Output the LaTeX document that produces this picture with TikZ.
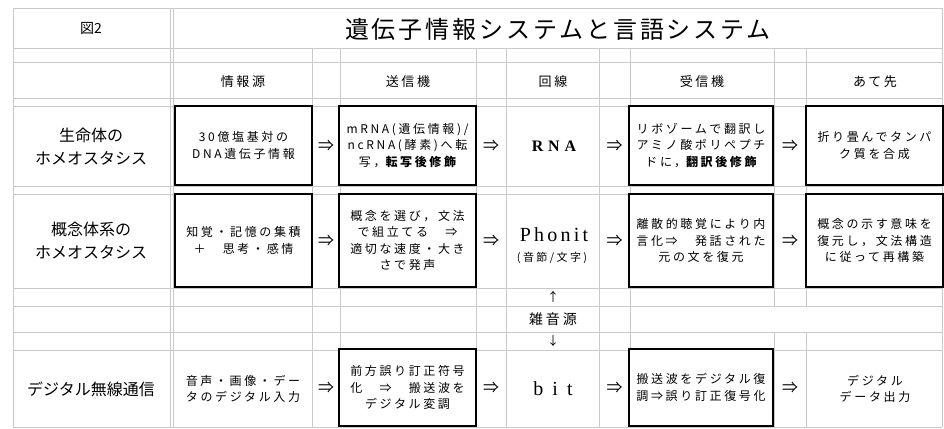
\documentclass[tikz,border=0pt]{standalone}
\usepackage{fontspec}
\setmainfont{Noto Sans CJK JP}
\newfontfamily\jp{Noto Sans CJK JP}
\newfontfamily\jpbox[LetterSpace=22]{Noto Sans CJK JP}
\newfontfamily\jphead[LetterSpace=20]{Noto Sans CJK JP}
\newfontfamily\jptitle[LetterSpace=12]{Noto Sans CJK JP}
\newfontfamily\latser{Liberation Serif}
\newfontfamily\latserw[LetterSpace=30]{Liberation Serif}
\newfontfamily\latserp[LetterSpace=16]{Liberation Serif}
\newfontfamily\latserww[LetterSpace=45]{Liberation Serif}
\begin{document}
\begin{tikzpicture}[x=1pt,y=-1pt,
  gridline/.style={draw=gray!42, line width=0.8pt},
  cellbox/.style={draw=black, line width=1.5pt, fill=white, inner sep=0pt, align=center,
     font=\jpbox\fontsize{12}{16.5}\selectfont},
  celltxt/.style={inner sep=0pt, align=center, font=\jpbox\fontsize{12}{16.5}\selectfont},
  rowlabel/.style={inner sep=0pt, align=center, font=\jp\fontsize{16}{23}\selectfont},
  headtxt/.style={inner sep=0pt, font=\jphead\fontsize{13}{16}\selectfont},
  arr/.style={inner sep=0pt, font=\jp\fontsize{16}{16}\selectfont},
  smallarr/.style={inner sep=0pt, font=\jp\fontsize{12}{12}\selectfont}
]
\useasboundingbox (0,0) rectangle (944,428);
\fill[white] (0,0) rectangle (944,428);
% horizontal grid lines
\foreach \yy in {8,48,62,98,106,186,194,288,306,332,350,427}
  \draw[gridline] (13,\yy) -- (942,\yy);
% full-height vertical lines
\foreach \xx in {13,170,173,942}
  \draw[gridline] (\xx,8) -- (\xx,427);
\foreach \xx in {312,340,476,506,599,630}
  \draw[gridline] (\xx,48) -- (\xx,427);
\foreach \xx in {774,806}{
  \draw[gridline] (\xx,48) -- (\xx,306);
  \draw[gridline] (\xx,332) -- (\xx,427);
}
% title row
\node[inner sep=0pt, font=\jp\fontsize{14}{14}\selectfont] (fig) at (91,28) {図2};
\node[inner sep=0pt, font=\jptitle\fontsize{24}{24}\selectfont] (title) at (558,29) {遺伝子情報システムと言語システム};
% header
\node[headtxt] (h1) at (243,82) {情報源};
\node[headtxt] (h2) at (408,82) {送信機};
\node[headtxt] (h3) at (553,82) {回線};
\node[headtxt] (h4) at (702,82) {受信機};
\node[headtxt] (h5) at (875,82) {あて先};
% row labels
\node[rowlabel] (r1) at (91,147) {生命体の\\ホメオスタシス};
\node[rowlabel] (r2) at (91,241) {概念体系の\\ホメオスタシス};
\node[rowlabel] (r3) at (91,389) {デジタル無線通信};
% row 1
\node[cellbox, minimum width=137pt, minimum height=79pt] (b11) at (243.5,145.5) {30億塩基対の\\DNA遺伝子情報};
\node[cellbox, minimum width=137pt, minimum height=79pt] (b12) at (407.5,145.5) {mRNA(遺伝情報)/\\ncRNA(酵素)へ転\\写，{\bfseries 転写後修飾}};
\node[inner sep=0pt, font=\latserw\bfseries\fontsize{16}{16}\selectfont] (b13) at (554,146) {RNA};
\node[cellbox, minimum width=144pt, minimum height=79pt] (b14) at (701,145.5) {リボゾームで翻訳し\\アミノ酸ポリペプチ\\ドに，{\bfseries 翻訳後修飾}};
\node[cellbox, minimum width=137pt, minimum height=79pt] (b15) at (874.5,145.5) {折り畳んでタンパ\\ク質を合成};
% row 2
\node[cellbox, minimum width=137pt, minimum height=93pt] (b21) at (243.5,240.5) {知覚・記憶の集積\\＋　思考・感情};
\node[cellbox, minimum width=137pt, minimum height=93pt] (b22) at (407.5,240.5) {概念を選び，文法\\で組立てる　⇒\\適切な速度・大き\\さで発声};
\node[inner sep=0pt, font=\latserp\fontsize{20}{20}\selectfont] (b23) at (554,235) {Phonit};
\node[celltxt, font=\jpbox\fontsize{11}{11}\selectfont] (b23s) at (552,258) {(音節/文字)};
\node[cellbox, minimum width=144pt, minimum height=93pt] (b24) at (701,240.5) {離散的聴覚により内\\言化⇒　発話された\\元の文を復元};
\node[cellbox, minimum width=137pt, minimum height=93pt] (b25) at (874.5,240.5) {概念の示す意味を\\復元し，文法構造\\に従って再構築};
% noise
\node[smallarr] (up) at (553,297) {↑};
\node[headtxt, font=\jphead\fontsize{14}{14}\selectfont] (noise) at (553,319) {雑音源};
\node[smallarr] (down) at (553,341) {↓};
% row 6
\node[celltxt] (b31) at (243,389) {音声・画像・デー\\タのデジタル入力};
\node[cellbox, minimum width=137pt, minimum height=77pt] (b32) at (407.5,387.5) {前方誤り訂正符号\\化　⇒　搬送波を\\デジタル変調};
\node[inner sep=0pt, font=\latserww\fontsize{20}{20}\selectfont] (b33) at (553,389) {bit};
\node[cellbox, minimum width=144pt, minimum height=77pt] (b34) at (701,387.5) {搬送波をデジタル復\\調⇒誤り訂正復号化};
\node[celltxt] (b35) at (875,389) {デジタル\\データ出力};
% arrows
\foreach \yy/\r in {145.5/1,240.5/2,388/3}{
  \node[arr] (a\r1) at (326,\yy) {⇒};
  \node[arr] (a\r2) at (491,\yy) {⇒};
  \node[arr] (a\r3) at (614.5,\yy) {⇒};
  \node[arr] (a\r4) at (790,\yy) {⇒};
}
\end{tikzpicture}
\end{document}
